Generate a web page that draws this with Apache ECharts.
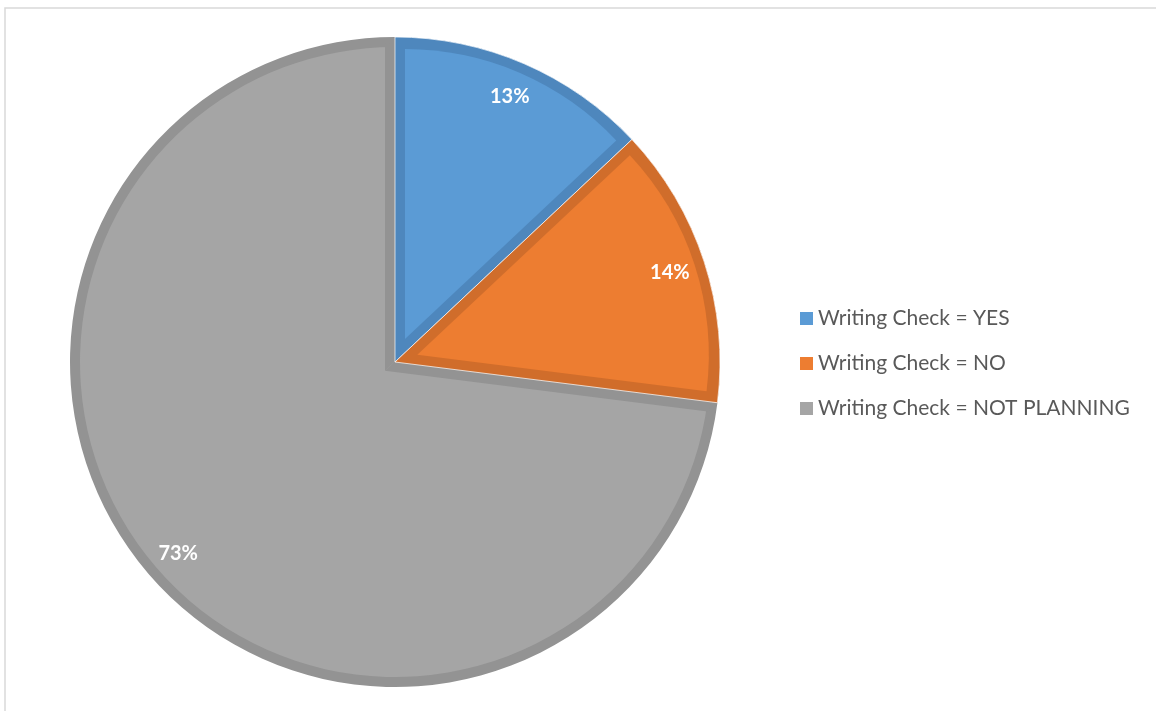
<!DOCTYPE html>
<html>
<head>
<meta charset="utf-8">
<script src="https://cdn.jsdelivr.net/npm/echarts@6/dist/echarts.min.js"></script>
<style>
  html, body { margin: 0; padding: 0; background: #fff; }
  #chart { width: 1156px; height: 711px; }
</style>
</head>
<body>
<div id="chart"></div>
<script>
// Survey answers and their shares (percent)
const categories = ['Writing Check = YES', 'Writing Check = NO', 'Writing Check = NOT PLANNING'];
const shares = [13, 14, 73];

// Slice fill colours and the darker inner edge band of each slice
const fillColors = ['#5B9BD5', '#ED7D31', '#A5A5A5'];
const edgeColors = ['#4E87BD', '#D06D2B', '#939393'];

const FONT = 'Lato, "Open Sans", "DejaVu Sans", sans-serif';
const CX = 395, CY = 362, R = 325, BAND = 10;
const NONE = 'rgba(0,0,0,0)';

// Angular extent of each slice, clockwise from 12 o'clock
const total = shares.reduce((a, b) => a + b, 0);
let acc = 0;
const wedges = shares.map(v => {
  const a0 = acc / total * Math.PI * 2;
  acc += v;
  const a1 = acc / total * Math.PI * 2;
  return { mid: (a0 + a1) / 2, half: (a1 - a0) / 2 };
});

// Apex of a wedge whose straight edges sit BAND px inside the slice edges
function insetApex(w) {
  const d = BAND / Math.sin(w.half);
  return { d: d, c: [CX + d * Math.sin(w.mid), CY - d * Math.cos(w.mid)] };
}

function pieLayer(colors, center, radius, extra) {
  return Object.assign({
    type: 'pie',
    startAngle: 90,
    clockwise: true,
    center: center,
    radius: radius,
    silent: true,
    animation: false,
    label: { show: false },
    labelLine: { show: false },
    emphasis: { disabled: true },
    itemStyle: { borderWidth: 0 },
    data: categories.map((n, i) => ({
      name: n,
      value: shares[i],
      itemStyle: { color: colors[i] || NONE, borderWidth: colors[i] ? undefined : 0 }
    }))
  }, extra || {});
}

const grayInset = insetApex(wedges[2]);
const series = [
  // dark base of every slice
  pieLayer(edgeColors, [CX, CY], R),
  // light gray body
  pieLayer(fillColors.map(() => fillColors[2]), [CX, CY], R - BAND),
  // gray edge band alongside the two smaller slices
  pieLayer([edgeColors[2], edgeColors[2], null], grayInset.c, R + 2),
  // dark bases of the two smaller slices
  pieLayer([edgeColors[0], edgeColors[1], null], [CX, CY], R,
    { itemStyle: { borderWidth: 1, borderColor: 'rgba(255,255,255,0.7)' } })
];
// light bodies of the two smaller slices
[0, 1].forEach(i => {
  const ins = insetApex(wedges[i]);
  const cols = [null, null, null];
  cols[i] = fillColors[i];
  series.push(pieLayer(cols, ins.c, R - BAND - ins.d));
});
// percentage labels
series.push(Object.assign(pieLayer([NONE, NONE, NONE], [CX, CY], [247, R]), {
  label: {
    show: true,
    position: 'inside',
    formatter: '{d}%',
    color: '#fff',
    fontFamily: FONT,
    fontWeight: 'bold',
    fontSize: 20
  },
  z: 10
}));

const chart = echarts.init(document.getElementById('chart'), null, { renderer: 'canvas' });
chart.setOption({
  backgroundColor: '#fff',
  animation: false,
  graphic: [{
    type: 'rect',
    shape: { x: 5, y: 8, width: 1170, height: 730 },
    style: { fill: 'none', stroke: '#D9D9D9', lineWidth: 1.5 },
    silent: true
  }],
  legend: {
    orient: 'vertical',
    left: 800,
    top: 308,
    padding: 0,
    icon: 'rect',
    itemWidth: 13,
    itemHeight: 13,
    itemGap: 24,
    selectedMode: false,
    textStyle: { fontFamily: FONT, fontSize: 21, color: '#595959', lineHeight: 21 },
    data: categories.map((n, i) => ({ name: n, itemStyle: { color: fillColors[i] } }))
  },
  series: series
});
</script>
</body>
</html>
